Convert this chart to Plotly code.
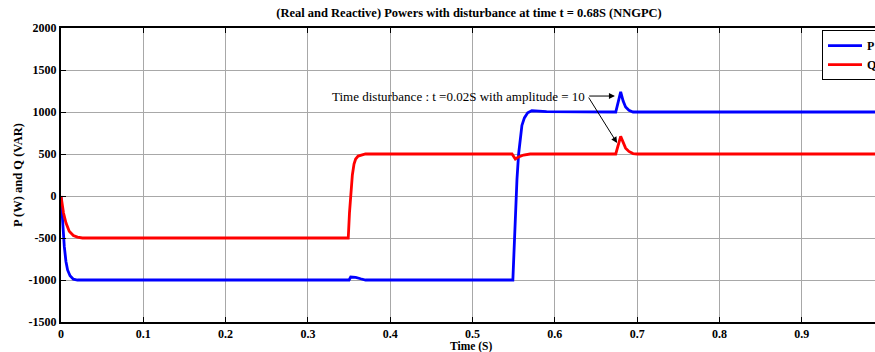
import plotly.graph_objects as go

# ---- data ----
P_t = [0, 0.002, 0.004, 0.006, 0.008, 0.011, 0.015, 0.02,
       0.35, 0.352, 0.358, 0.364, 0.37,
       0.549, 0.5505, 0.552, 0.554, 0.556, 0.558, 0.560, 0.563, 0.567, 0.572, 0.59,
       0.674, 0.680, 0.683, 0.686, 0.690, 0.695, 1.0]
P_v = [0, -350, -600, -780, -880, -950, -990, -1000,
       -1000, -965, -968, -985, -1000,
       -1000, -600, -200, 200, 500, 700, 840, 930, 990, 1015, 1005,
       1000, 1240, 1130, 1060, 1020, 1000, 1000]

Q_t = [0, 0.003, 0.006, 0.01, 0.015, 0.02, 0.026,
       0.349, 0.3505, 0.352, 0.354, 0.356, 0.358, 0.361, 0.365, 0.37,
       0.548, 0.552, 0.556, 0.562, 0.57,
       0.674, 0.680, 0.683, 0.686, 0.690, 0.695, 0.700, 1.0]
Q_v = [0, -200, -320, -420, -470, -490, -500,
       -500, -200, 0, 250, 380, 440, 475, 490, 500,
       500, 440, 465, 488, 500,
       500, 710, 630, 570, 530, 505, 500, 500]

x_ticks = [0, 0.1, 0.2, 0.3, 0.4, 0.5, 0.6, 0.7, 0.8, 0.9]
x_labels = ["0", "0.1", "0.2", "0.3", "0.4", "0.5", "0.6", "0.7", "0.8", "0.9"]
y_ticks = [-1500, -1000, -500, 0, 500, 1000, 1500, 2000]

FONT = "Liberation Serif, Times New Roman, serif"

fig = go.Figure()
fig.add_trace(go.Scatter(x=P_t, y=P_v, mode="lines", name="<b>P</b>",
                         line=dict(color="#0000ff", width=2.8)))
fig.add_trace(go.Scatter(x=Q_t, y=Q_v, mode="lines", name="<b>Q</b>",
                         line=dict(color="#ff0000", width=2.8)))

fig.update_layout(
    width=875, height=352,
    margin=dict(l=61, r=0, t=28, b=30, autoexpand=False),
    paper_bgcolor="white", plot_bgcolor="white",
    font=dict(family=FONT, size=12, color="black"),
    title=dict(text="<b>(Real and Reactive) Powers with disturbance at time t = 0.68S (NNGPC)</b>",
               x=469/875, xref="container", xanchor="center",
               y=1-13/352, yref="container", yanchor="middle",
               font=dict(family=FONT, size=12.5, color="black")),
    legend=dict(x=(822-61)/814, y=0.993, xanchor="left", yanchor="top",
                bordercolor="black", borderwidth=1, bgcolor="white",
                font=dict(family=FONT, size=12, color="black"),
                itemwidth=34, tracegroupgap=0),
    showlegend=True,
)

fig.update_xaxes(range=[0, 0.989], tickvals=x_ticks, ticktext=[f"<b>{s}</b>" for s in x_labels],
                 showgrid=True, gridcolor="#a8a8a8", gridwidth=1,
                 showline=True, linecolor="black", linewidth=2, mirror="ticks",
                 ticks="inside", ticklen=5, tickcolor="black", tickwidth=1,
                 zeroline=False, tickfont=dict(family=FONT, size=12, color="black"))
fig.update_yaxes(range=[-1500, 2000], tickvals=y_ticks, ticktext=[f"<b>{v}</b>" for v in y_ticks],
                 showgrid=True, gridcolor="#a8a8a8", gridwidth=1,
                 showline=True, linecolor="black", linewidth=2, mirror=False,
                 ticks="inside", ticklen=5, tickcolor="black", tickwidth=1,
                 zeroline=False, tickfont=dict(family=FONT, size=12, color="black"))

# axis titles
fig.add_annotation(text="<b>Time (S)</b>", xref="paper", yref="paper",
                   x=(471-61)/814, y=(322-346.5)/294, showarrow=False,
                   xanchor="center", yanchor="middle",
                   font=dict(family=FONT, size=11.5, color="black"))
fig.add_annotation(text="<b>P (W) and Q (VAR)</b>", xref="paper", yref="paper",
                   x=(18-61)/814, y=(322-175)/294, showarrow=False, textangle=-90,
                   xanchor="center", yanchor="middle",
                   font=dict(family=FONT, size=12.5, color="black"))

# disturbance annotation
fig.add_annotation(text="Time disturbance : t =0.02S with amplitude = 10",
                   x=0.639, y=1190, xref="x", yref="y", showarrow=False,
                   xanchor="right", yanchor="middle",
                   font=dict(family=FONT, size=13, color="black"))
fig.add_annotation(x=0.673, y=1190, ax=0.640, ay=1190, xref="x", yref="y",
                   axref="x", ayref="y", text="", showarrow=True,
                   arrowhead=2, arrowsize=1.2, arrowwidth=1, arrowcolor="black", standoff=0)
fig.add_annotation(x=0.6756, y=631, ax=0.640, ay=1190, xref="x", yref="y",
                   axref="x", ayref="y", text="", showarrow=True,
                   arrowhead=2, arrowsize=1.2, arrowwidth=1, arrowcolor="black", standoff=0)

fig.write_html("out.html")
